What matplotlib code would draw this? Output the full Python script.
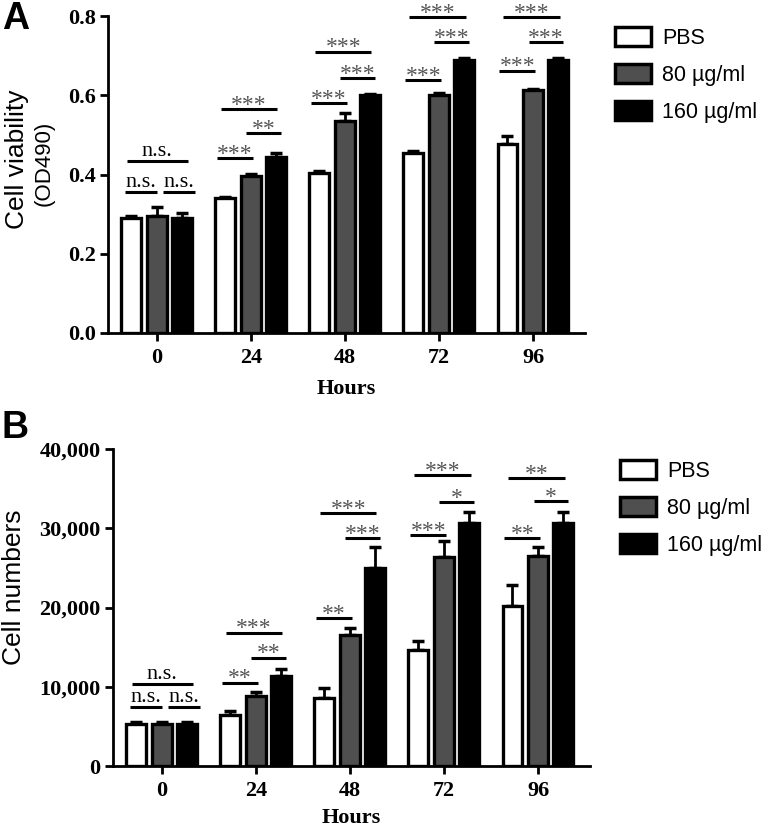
import numpy as np
import matplotlib.pyplot as plt
from matplotlib.patches import Patch

# categories
hours = ["0", "24", "48", "72", "96"]
groups = ["PBS", "80 µg/ml", "160 µg/ml"]

# panel A: cell viability (OD490)
viab_pbs = [0.290, 0.340, 0.405, 0.455, 0.478]
viab_80 = [0.295, 0.396, 0.535, 0.601, 0.612]
viab_160 = [0.290, 0.443, 0.601, 0.690, 0.690]
viab_err_pbs = [0.006, 0.004, 0.003, 0.004, 0.020]
viab_err_80 = [0.022, 0.005, 0.020, 0.004, 0.004]
viab_err_160 = [0.014, 0.011, 0.003, 0.004, 0.004]

# panel B: cell numbers
cells_pbs = [5300, 6400, 8600, 14600, 20200]
cells_80 = [5300, 8800, 16500, 26400, 26500]
cells_160 = [5300, 11300, 25000, 30700, 30700]
cells_err_pbs = [250, 600, 1200, 1200, 2600]
cells_err_80 = [250, 500, 900, 2000, 1100]
cells_err_160 = [250, 1000, 2600, 1300, 1400]

# significance labels per hour: (PBS vs 160, 80 vs 160, PBS vs 80)
sig_a = [["n.s.", "n.s.", "n.s."], ["***", "**", "***"], ["***", "***", "***"],
         ["***", "***", "***"], ["***", "***", "***"]]
sig_b = [["n.s.", "n.s.", "n.s."], ["***", "**", "**"], ["***", "***", "**"],
         ["***", "*", "***"], ["**", "*", "**"]]

a_yticks = [0.0, 0.2, 0.4, 0.6, 0.8]
a_yticklabels = ["0.0", "0.2", "0.4", "0.6", "0.8"]
b_yticks = [0, 10000, 20000, 30000, 40000]
b_yticklabels = ["0", "10,000", "20,000", "30,000", "40,000"]

# bracket heights (layout)
sig_y_a = [[0.433, 0.357, 0.357], [0.565, 0.504, 0.441], [0.709, 0.643, 0.580],
           [0.797, 0.734, 0.638], [0.797, 0.734, 0.661]]
sig_y_b = [[10340, 7440, 7440], [16770, 13620, 10470], [31900, 28750, 18660],
           [36700, 33290, 29130], [36320, 33420, 28750]]
spans = [(-0.32, 0.28), (-0.05, 0.32), (-0.36, 0.02)]
spans_first = [(-0.32, 0.33), (0.06, 0.41), (-0.34, 0.0)]

colors = ["white", "#4f4f4f", "black"]
offsets = [-0.275, 0.0, 0.265]
bar_w = 0.21
serif = "Liberation Serif"
sans = "Liberation Sans"


def draw_panel(ax, series, errs, sig, sig_y, ylim, yticks, yticklabels, xlab_y):
    x = np.arange(len(hours))
    for k in range(3):
        ax.bar(x + offsets[k], series[k], width=bar_w, color=colors[k],
               edgecolor="black", linewidth=2.4, zorder=2)
        ax.errorbar(x + offsets[k], series[k],
                    yerr=[np.zeros(len(hours)), errs[k]], fmt="none",
                    ecolor="black", elinewidth=2, capsize=4, capthick=2.5,
                    zorder=1)
    for g in range(len(hours)):
        sp = spans_first if g == 0 else spans
        for j in range(3):
            x0, x1 = g + sp[j][0], g + sp[j][1]
            y = sig_y[g][j]
            ax.plot([x0, x1], [y, y], color="black", lw=2.2,
                    solid_capstyle="butt", clip_on=False)
            lab = sig[g][j]
            if lab == "n.s.":
                ax.annotate(lab, ((x0 + x1) / 2, y), xytext=(0, 0),
                            textcoords="offset points", ha="center",
                            va="bottom", fontsize=16, family=serif,
                            color="black", annotation_clip=False)
            else:
                ax.annotate(lab, ((x0 + x1) / 2, y), xytext=(0, -1),
                            textcoords="offset points", ha="center",
                            va="baseline", fontsize=17, family=serif,
                            color="#555555", annotation_clip=False)
    ax.set_xlim(-0.52, 4.55)
    ax.set_ylim(*ylim)
    ax.set_xticks(x)
    ax.set_xticklabels(hours, fontsize=16, family=serif, fontweight="bold")
    ax.set_yticks(yticks)
    ax.set_yticklabels(yticklabels, fontsize=16, family=serif,
                       fontweight="bold")
    ax.tick_params(axis="both", width=2, length=6, pad=3)
    ax.tick_params(axis="x", pad=5)
    for s in ["top", "right"]:
        ax.spines[s].set_visible(False)
    for s in ["left", "bottom"]:
        ax.spines[s].set_linewidth(2)
    ax.set_xlabel("Hours", fontsize=16, family=serif, fontweight="bold")
    ax.xaxis.set_label_coords(0.5, xlab_y)


def add_legend(fig, x, y):
    handles = [Patch(facecolor=colors[k], edgecolor="black", linewidth=2.5)
               for k in range(3)]
    fig.legend(handles, groups, loc="upper left", bbox_to_anchor=(x, y),
               frameon=False, prop={"family": sans, "size": 15.5},
               handlelength=1.65, handleheight=0.95, handletextpad=0.55,
               labelspacing=0.72, borderpad=0, borderaxespad=0)


fig = plt.figure(figsize=(7.64, 8.32), dpi=100)
ax_a = fig.add_axes([108 / 764, 1 - 333 / 832, 477 / 764, 317 / 832])
ax_b = fig.add_axes([113 / 764, 1 - 766 / 832, 477 / 764, 317 / 832])

draw_panel(ax_a, [viab_pbs, viab_80, viab_160],
           [viab_err_pbs, viab_err_80, viab_err_160],
           sig_a, sig_y_a, (0, 0.8), a_yticks, a_yticklabels, -0.145)
draw_panel(ax_b, [cells_pbs, cells_80, cells_160],
           [cells_err_pbs, cells_err_80, cells_err_160],
           sig_b, sig_y_b, (0, 40000), b_yticks, b_yticklabels, -0.133)

fig.text(17 / 764, 1 - 159 / 832, "Cell viability", rotation=90,
         ha="center", va="center", fontsize=19, family=sans)
fig.text(44 / 764, 1 - 163 / 832, "(OD490)", rotation=90,
         ha="center", va="center", fontsize=16, family=sans)
fig.text(14 / 764, 1 - 587 / 832, "Cell numbers", rotation=90,
         ha="center", va="center", fontsize=19, family=sans)

fig.text(2 / 764, 1 - 1 / 832, "A", ha="left", va="top", fontsize=27,
         family=sans, fontweight="bold")
fig.text(2 / 764, 1 - 410 / 832, "B", ha="left", va="top", fontsize=27,
         family=sans, fontweight="bold")

add_legend(fig, 615 / 764, 1 - 27 / 832)
add_legend(fig, 620 / 764, 1 - 460 / 832)

fig.savefig("out.png", dpi=100)
